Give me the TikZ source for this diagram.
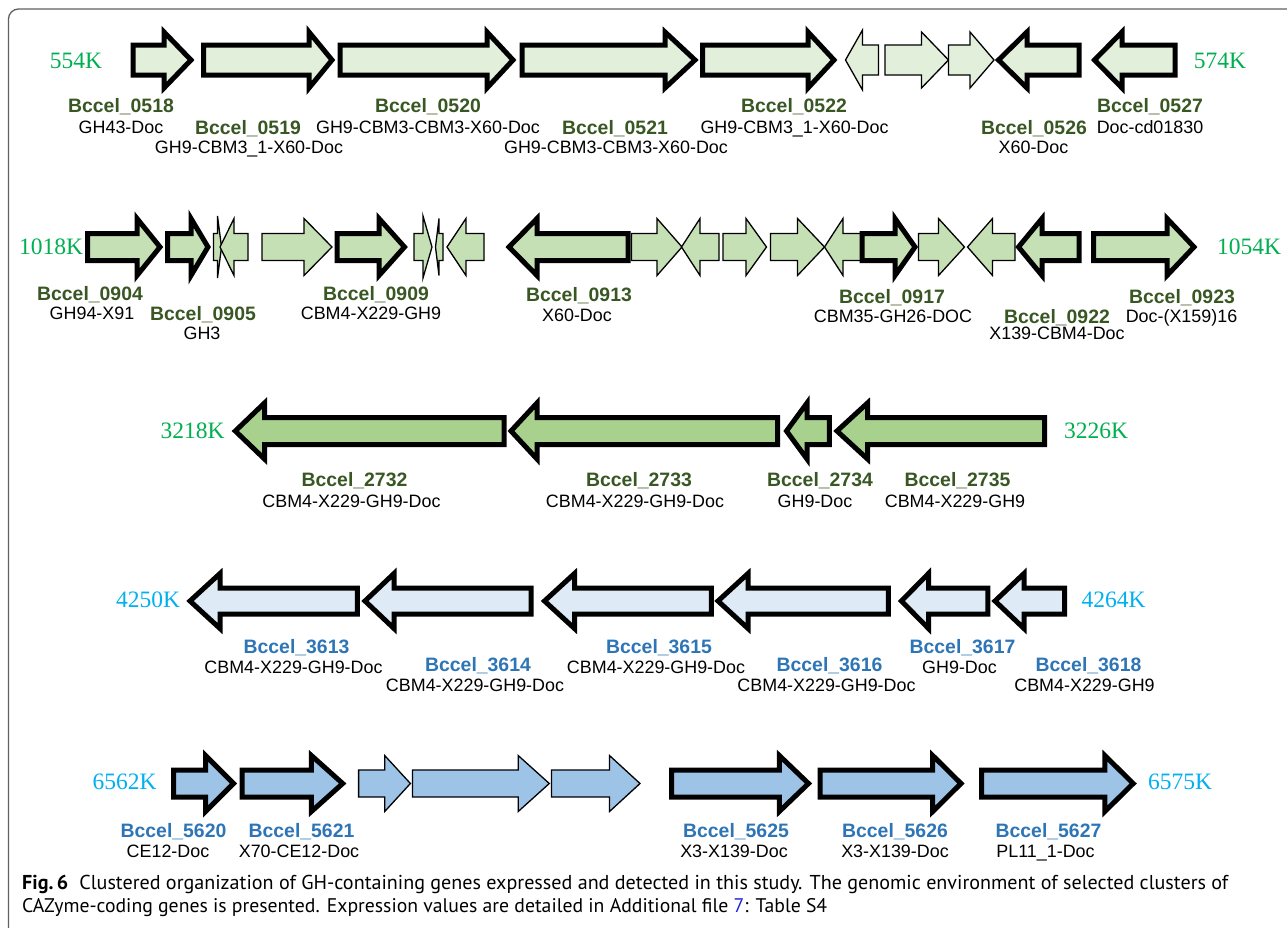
\documentclass[tikz,border=0pt]{standalone}
\usepackage{fontspec}
\usepackage{graphicx}
\setmainfont{Liberation Sans}
\newfontfamily\posfont{Liberation Serif}
\newfontfamily\capfont{PT Sans}
\definecolor{fa}{HTML}{E2EFDA}
\definecolor{fb}{HTML}{C5E0B4}
\definecolor{fc}{HTML}{A9D18E}
\definecolor{fd}{HTML}{DEEBF7}
\definecolor{fe}{HTML}{9DC3E6}
\definecolor{dgreen}{HTML}{385723}
\definecolor{dblue}{HTML}{2E75B6}
\definecolor{pgreen}{HTML}{00B050}
\definecolor{pblue}{HTML}{00B0F0}
\definecolor{linkblue}{HTML}{2020E0}
\definecolor{framegray}{HTML}{606060}
\tikzset{
 thk/.style={draw=black, line width=5pt, fill=#1, line join=miter, miter limit=10},
 thn/.style={draw=black, line width=1.3pt, fill=#1, line join=miter},
 bname/.style={anchor=base, yshift=-7pt, font=\bfseries\fontsize{19.4}{20}\selectfont, inner sep=0pt},
 dname/.style={anchor=base, yshift=-6.4pt, font=\fontsize{17.9}{19}\selectfont, inner sep=0pt, text=black},
 poslab/.style={anchor=base, yshift=-7.8pt, font=\posfont\fontsize{23.5}{24}\selectfont, inner sep=0pt},
 capline/.style={anchor=base west, inner sep=0pt, font=\capfont\fontsize{17}{23}\selectfont},
}
\newcommand\genearrow[4]{\draw[#1] (#2,\cy-\sh) -- (#3,\cy-\sh) -- (#3,\cy-\hh) -- (#4,\cy) -- (#3,\cy+\hh) -- (#3,\cy+\sh) -- (#2,\cy+\sh) -- cycle;}
\begin{document}
\begin{tikzpicture}[x=1pt,y=-1pt]
\useasboundingbox (0,0) rectangle (1287,927);
\fill[white] (0,0) rectangle (1287,927);
\draw[framegray, line width=1.3pt, rounded corners=10pt] (8.5,940) -- (8.5,9) -- (1300,9);

% ---------- Row 1 ----------
\def\cy{60}\def\sh{15}\def\hh{28}
\genearrow{thk=fa}{133}{164}{191}
\genearrow{thk=fa}{203.5}{309}{332}
\genearrow{thk=fa}{340}{487}{513}
\genearrow{thk=fa}{522}{665}{695}
\genearrow{thk=fa}{702.5}{808}{834}
\def\hh{30}
\genearrow{thn=fa}{878.5}{862.5}{845.5}
\def\hh{28}
\genearrow{thn=fa}{885}{921.5}{948.5}
\genearrow{thn=fa}{948.5}{970}{994}
\genearrow{thk=fa}{1079}{1027}{998.5}
\genearrow{thk=fa}{1175}{1122}{1094.5}
\node[poslab, text=pgreen] (p554) at (76,61) {554K};
\node[poslab, text=pgreen] (p574) at (1220,61) {574K};
\node[bname, text=dgreen] (l0518) at (121,105) {Bccel\_0518};
\node[dname] (d0518) at (121,127) {GH43-Doc};
\node[bname, text=dgreen] (l0519) at (248,127) {Bccel\_0519};
\node[dname] (d0519) at (249,147) {GH9-CBM3\_1-X60-Doc};
\node[bname, text=dgreen] (l0520) at (428,105) {Bccel\_0520};
\node[dname] (d0520) at (428,127) {GH9-CBM3-CBM3-X60-Doc};
\node[bname, text=dgreen] (l0521) at (615,127) {Bccel\_0521};
\node[dname] (d0521) at (616,147) {GH9-CBM3-CBM3-X60-Doc};
\node[bname, text=dgreen] (l0522) at (794,105) {Bccel\_0522};
\node[dname] (d0522) at (794.5,127) {GH9-CBM3\_1-X60-Doc};
\node[bname, text=dgreen] (l0526) at (1034,127) {Bccel\_0526};
\node[dname] (d0526) at (1033.5,147) {X60-Doc};
\node[bname, text=dgreen] (l0527) at (1150,105) {Bccel\_0527};
\node[dname] (d0527) at (1150,127) {Doc-cd01830};

% ---------- Row 2 ----------
\def\cy{247}\def\sh{13.5}\def\hh{28.5}
\genearrow{thk=fb}{87.5}{137}{160}
\genearrow{thk=fb}{167.5}{191}{208}
\def\hh{31}
\genearrow{thn=fb}{213.5}{217.5}{221.5}
\def\hh{28.5}
\genearrow{thn=fb}{248}{234}{220}
\genearrow{thn=fb}{262}{304}{332}
\genearrow{thk=fb}{337}{379}{404.5}
\def\hh{31}
\genearrow{thn=fb}{414}{423}{432}
\def\hh{28.5}
\genearrow{thn=fb}{443}{439}{435.5}
\genearrow{thn=fb}{484}{466}{447}
\genearrow{thk=fb}{628}{537}{509}
\genearrow{thn=fb}{631.5}{657}{682}
\genearrow{thn=fb}{719}{700}{681.5}
\genearrow{thn=fb}{723}{746}{766.5}
\genearrow{thn=fb}{770.5}{797.5}{824.5}
\genearrow{thn=fb}{862}{843}{824.5}
\genearrow{thk=fb}{862}{895}{915}
\genearrow{thn=fb}{918.5}{938.5}{964.5}
\genearrow{thn=fb}{1015}{992.5}{967.5}
\genearrow{thk=fb}{1079}{1042}{1018.5}
\genearrow{thk=fb}{1093.5}{1167}{1194}
\node[poslab, text=pgreen] (p1018) at (51,247) {1018K};
\node[poslab, text=pgreen] (p1054) at (1249,247) {1054K};
\node[bname, text=dgreen] (l0904) at (90,293) {Bccel\_0904};
\node[dname] (d0904) at (92,313) {GH94-X91};
\node[bname, text=dgreen] (l0905) at (203,313) {Bccel\_0905};
\node[dname] (d0905) at (202,333) {GH3};
\node[bname, text=dgreen] (l0909) at (376,293) {Bccel\_0909};
\node[dname] (d0909) at (371,313) {CBM4-X229-GH9};
\node[bname, text=dgreen] (l0913) at (579,294) {Bccel\_0913};
\node[dname] (d0913) at (577,315) {X60-Doc};
\node[bname, text=dgreen] (l0917) at (892,296) {Bccel\_0917};
\node[dname] (d0917) at (893,316) {CBM35-GH26-DOC};
\node[bname, text=dgreen] (l0922) at (1057,316) {Bccel\_0922};
\node[dname] (d0922) at (1057,333) {X139-CBM4-Doc};
\node[bname, text=dgreen] (l0923) at (1182,296) {Bccel\_0923};
\node[dname] (d0923) at (1181.5,316) {Doc-(X159)16};

% ---------- Row 3 ----------
\def\cy{431}\def\sh{13.5}\def\hh{28}
\genearrow{thk=fc}{504}{264.5}{235.3}
\genearrow{thk=fc}{777.5}{537}{511}
\genearrow{thk=fc}{829.3}{807}{786.5}
\genearrow{thk=fc}{1044.5}{867.5}{837}
\node[poslab, text=pgreen] (p3218) at (192.5,431) {3218K};
\node[poslab, text=pgreen] (p3226) at (1096,431) {3226K};
\node[bname, text=dgreen] (l2732) at (354.5,479) {Bccel\_2732};
\node[dname] (d2732) at (351.5,501) {CBM4-X229-GH9-Doc};
\node[bname, text=dgreen] (l2733) at (639,479) {Bccel\_2733};
\node[dname] (d2733) at (635,501) {CBM4-X229-GH9-Doc};
\node[bname, text=dgreen] (l2734) at (820,479) {Bccel\_2734};
\node[dname] (d2734) at (815,501) {GH9-Doc};
\node[bname, text=dgreen] (l2735) at (957.5,479) {Bccel\_2735};
\node[dname] (d2735) at (955,501) {CBM4-X229-GH9};

% ---------- Row 4 ----------
\def\cy{601}\def\sh{13}\def\hh{27.5}
\genearrow{thk=fd}{357.4}{220}{190}
\genearrow{thk=fd}{531}{394}{365}
\genearrow{thk=fd}{711.3}{574.5}{544.5}
\genearrow{thk=fd}{888.3}{748}{718}
\genearrow{thk=fd}{987.8}{928.5}{901.4}
\genearrow{thk=fd}{1064.5}{1024}{995}
\node[poslab, text=pblue] (p4250) at (148,600) {4250K};
\node[poslab, text=pblue] (p4264) at (1113.7,600) {4264K};
\node[bname, text=dblue] (l3613) at (296.5,646.5) {Bccel\_3613};
\node[dname] (d3613) at (293.5,667) {CBM4-X229-GH9-Doc};
\node[bname, text=dblue] (l3614) at (478,664) {Bccel\_3614};
\node[dname] (d3614) at (475,685) {CBM4-X229-GH9-Doc};
\node[bname, text=dblue] (l3615) at (659,646.5) {Bccel\_3615};
\node[dname] (d3615) at (656,667) {CBM4-X229-GH9-Doc};
\node[bname, text=dblue] (l3616) at (829.5,664) {Bccel\_3616};
\node[dname] (d3616) at (826.5,685) {CBM4-X229-GH9-Doc};
\node[bname, text=dblue] (l3617) at (962.5,646.5) {Bccel\_3617};
\node[dname] (d3617) at (959.5,667) {GH9-Doc};
\node[bname, text=dblue] (l3618) at (1088.5,664) {Bccel\_3618};
\node[dname] (d3618) at (1084.5,685) {CBM4-X229-GH9};

% ---------- Row 5 ----------
\def\cy{783.5}\def\sh{13.5}\def\hh{28}
\genearrow{thk=fe}{173.7}{205.5}{233.5}
\genearrow{thk=fe}{242}{311.4}{342.7}
\genearrow{thn=fe}{358.6}{384.7}{410.4}
\genearrow{thn=fe}{412.5}{518.2}{549.3}
\genearrow{thn=fe}{551.4}{609.5}{640}
\genearrow{thk=fe}{671.5}{779.3}{808.5}
\genearrow{thk=fe}{820}{932.7}{961}
\genearrow{thk=fe}{981.5}{1104.8}{1133.2}
\node[poslab, text=pblue] (p6562) at (124.5,782) {6562K};
\node[poslab, text=pblue] (p6575) at (1180,782) {6575K};
\node[bname, text=dblue] (l5620) at (173.5,830) {Bccel\_5620};
\node[dname] (d5620) at (168,851) {CE12-Doc};
\node[bname, text=dblue] (l5621) at (301.5,830) {Bccel\_5621};
\node[dname] (d5621) at (299,851) {X70-CE12-Doc};
\node[bname, text=dblue] (l5625) at (736,830) {Bccel\_5625};
\node[dname] (d5625) at (734,851) {X3-X139-Doc};
\node[bname, text=dblue] (l5626) at (895,830) {Bccel\_5626};
\node[dname] (d5626) at (895,851) {X3-X139-Doc};
\node[bname, text=dblue] (l5627) at (1048.5,830) {Bccel\_5627};
\node[dname] (d5627) at (1045.5,851) {PL11\_1-Doc};

% ---------- Caption ----------
\node[capline] (cap1) at (22,889) {\resizebox{1206pt}{!}{\textbf{Fig.\,6}\hspace{0.55em}Clustered organization of GH-containing genes expressed and detected in this study. The genomic environment of selected clusters of}};
\node[capline] (cap2) at (22,912) {\resizebox{805pt}{!}{CAZyme-coding genes is presented. Expression values are detailed in Additional file \textcolor{linkblue}{7}: Table S4}};
\end{tikzpicture}
\end{document}
